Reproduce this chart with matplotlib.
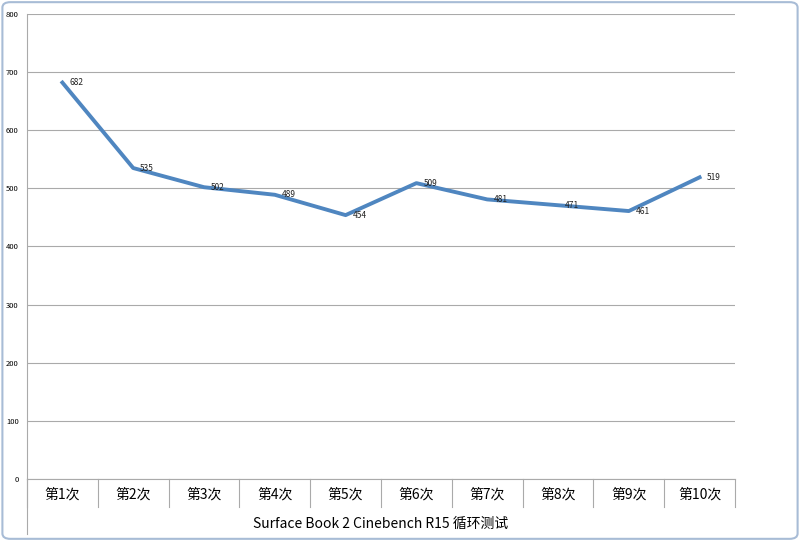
import matplotlib.pyplot as plt
from matplotlib.patches import FancyBboxPatch

plt.rcParams['font.family'] = ['Noto Sans CJK SC', 'DejaVu Sans']

categories = ["第1次", "第2次", "第3次", "第4次", "第5次", "第6次", "第7次", "第8次", "第9次", "第10次"]
scores = [682, 535, 502, 489, 454, 509, 481, 471, 461, 519]
y_ticks = [0, 100, 200, 300, 400, 500, 600, 700, 800]

fig = plt.figure(figsize=(8, 5.41), dpi=100)
ax = fig.add_axes([27 / 800, 1 - 479 / 541, 708 / 800, 465 / 541])

x = list(range(len(categories)))
ax.plot(x, scores, color="#4f86c0", linewidth=2.8, zorder=3)
for xi, v in zip(x, scores):
    ax.text(xi + 0.1, v, str(v), fontsize=6, va="center", ha="left", color="#222222", zorder=4)

ax.set_xlim(-0.5, len(categories) - 0.5)
ax.set_ylim(0, 800)
ax.set_yticks(y_ticks)
ax.set_yticklabels([str(t) for t in y_ticks], fontsize=5.5)
ax.tick_params(axis="y", length=0, pad=6)
ax.set_xticks([])
ax.grid(axis="y", color="#aaaaaa", linewidth=0.8)
ax.set_axisbelow(True)
for side in ["top", "right"]:
    ax.spines[side].set_visible(False)
ax.spines["bottom"].set_color("#aaaaaa")
ax.spines["left"].set_color("#aaaaaa")

# category table below the axis
for i in range(len(categories) + 1):
    ax.plot([i - 0.5, i - 0.5], [0, -0.06], transform=ax.get_xaxis_transform(),
            color="#aaaaaa", linewidth=0.8, clip_on=False)
for xi, c in zip(x, categories):
    ax.text(xi, -0.033, c, transform=ax.get_xaxis_transform(), ha="center", va="center", fontsize=10)
ax.plot([-0.5, -0.5], [0, -0.118], transform=ax.get_xaxis_transform(),
        color="#aaaaaa", linewidth=0.8, clip_on=False)
ax.text(4.5, -0.097, "Surface Book 2 Cinebench R15 循环测试", transform=ax.get_xaxis_transform(),
        ha="center", va="center", fontsize=10)

border = FancyBboxPatch((0.003, 0.004), 0.994, 0.992, boxstyle="round,pad=0,rounding_size=0.01",
                        transform=fig.transFigure, facecolor="none", edgecolor="#a8bcd6", linewidth=1.5)
fig.patches.append(border)

fig.savefig("out.png", dpi=100)
